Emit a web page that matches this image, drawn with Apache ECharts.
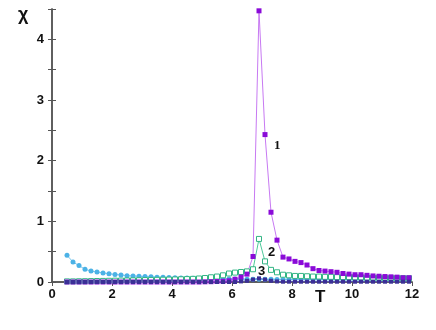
<!DOCTYPE html>
<html>
<head>
<meta charset="utf-8">
<script src="https://cdn.jsdelivr.net/npm/echarts@6/dist/echarts.min.js"></script>
<style>
    html, body { margin: 0; padding: 0; background: #fff; }
    #chart { width: 436px; height: 330px; }
</style>
</head>
<body>
<div id="chart"></div>
<script>
// temperatures (same grid for every curve)
const temps = [0.5, 0.7, 0.9, 1.1, 1.3, 1.5, 1.7, 1.9, 2.1, 2.3,
    2.5, 2.7, 2.9, 3.1, 3.3, 3.5, 3.7, 3.9, 4.1, 4.3,
    4.5, 4.7, 4.9, 5.1, 5.3, 5.5, 5.7, 5.9, 6.1, 6.3,
    6.5, 6.7, 6.9, 7.1, 7.3, 7.5, 7.7, 7.9, 8.1, 8.3,
    8.5, 8.7, 8.9, 9.1, 9.3, 9.5, 9.7, 9.9, 10.1, 10.3,
    10.5, 10.7, 10.9, 11.1, 11.3, 11.5, 11.7, 11.9];

// curve 1 - purple filled squares
const chi1 = [0, 0, 0, 0, 0, 0, 0, 0, 0, 0,
    0, 0, 0, 0, 0, 0, 0, 0, 0, 0,
    0, 0, 0, 0.003, 0.005, 0.008, 0.012, 0.02, 0.045, 0.08,
    0.13, 0.42, 4.47, 2.43, 1.15, 0.69, 0.41, 0.38, 0.34, 0.32,
    0.28, 0.22, 0.19, 0.18, 0.17, 0.16, 0.14, 0.13, 0.12, 0.12,
    0.11, 0.10, 0.095, 0.09, 0.085, 0.08, 0.07, 0.07];

// curve 2 - green open squares
const chi2 = [0.01, 0.01, 0.012, 0.013, 0.015, 0.016, 0.018, 0.02, 0.022, 0.024,
    0.026, 0.028, 0.03, 0.032, 0.034, 0.036, 0.038, 0.04, 0.042, 0.045,
    0.048, 0.052, 0.058, 0.066, 0.078, 0.09, 0.11, 0.14, 0.155, 0.165,
    0.175, 0.21, 0.71, 0.34, 0.2, 0.16, 0.12, 0.11, 0.1, 0.1,
    0.095, 0.09, 0.09, 0.085, 0.085, 0.08, 0.08, 0.08, 0.075, 0.075,
    0.07, 0.07, 0.07, 0.068, 0.066, 0.065, 0.064, 0.062];

// curve 3 - dark blue squares near zero
const chi3 = [0, 0, 0, 0, 0, 0, 0, 0, 0, 0,
    0, 0, 0, 0, 0, 0, 0, 0, 0, 0,
    0, 0, 0, 0, 0, 0, 0, 0, 0, 0.01,
    0.02, 0.04, 0.06, 0.04, 0.02, 0.01, 0.005, 0.005, 0.005, 0.005,
    0.005, 0.005, 0.005, 0.005, 0.005, 0.005, 0.005, 0.005, 0.005, 0.005,
    0.005, 0.005, 0.005, 0.005, 0.005, 0.005, 0.005, 0.005];

// light blue circles
const chi4 = [0.44, 0.33, 0.27, 0.21, 0.18, 0.165, 0.15, 0.135, 0.125, 0.115,
    0.105, 0.1, 0.095, 0.09, 0.085, 0.08, 0.077, 0.073, 0.07, 0.067,
    0.064, 0.061, 0.058, 0.056, 0.054, 0.052, 0.05, 0.049, 0.048, 0.047,
    0.046, 0.045, 0.045, 0.044, 0.044, 0.043, 0.043, 0.042, 0.042, 0.041,
    0.041, 0.04, 0.04, 0.04, 0.039, 0.039, 0.038, 0.038, 0.038, 0.037,
    0.037, 0.036, 0.036, 0.036, 0.035, 0.035, 0.035, 0.034];

const xTicks = [0, 2, 4, 6, 8, 10, 12];

const pairs = (ys) => temps.map((t, i) => [t, ys[i]]);

const chart = echarts.init(document.getElementById('chart'));

const axisLine = { show: true, lineStyle: { color: '#555', width: 1.5 } };
const tickIn = { show: true, inside: true, length: 4, lineStyle: { color: '#555', width: 1 } };

const option = {
    backgroundColor: '#fff',
    animation: false,
    grid: { left: 52, right: 24, top: 9, bottom: 48 },
    xAxis: [
        {
            type: 'value', min: xTicks[0], max: xTicks[xTicks.length - 1], interval: 2,
            axisLine: axisLine,
            axisTick: { show: false },
            splitLine: { show: false },
            axisLabel: { color: '#111', fontSize: 13, fontWeight: 'bold', fontFamily: 'Liberation Sans', margin: 6 }
        },
        {
            type: 'value', position: 'top', min: 0, max: 12, interval: 2,
            axisLine: axisLine, axisTick: tickIn,
            axisLabel: { show: false }, splitLine: { show: false }
        }
    ],
    yAxis: [
        {
            type: 'value', min: 0, max: 4.5, interval: 0.5,
            axisLine: axisLine, axisTick: tickIn,
            splitLine: { show: false },
            axisLabel: {
                color: '#111', fontSize: 13, fontWeight: 'bold', fontFamily: 'Liberation Sans', margin: 8,
                formatter: (v) => (Number.isInteger(v) ? String(v) : '')
            }
        },
        {
            type: 'value', position: 'right', min: 0, max: 4.5, interval: 0.5,
            axisLine: axisLine, axisTick: tickIn,
            axisLabel: { show: false }, splitLine: { show: false }
        }
    ],
    series: [
        {
            name: '4', type: 'line', data: pairs(chi4),
            symbol: 'circle', symbolSize: 5,
            lineStyle: { color: '#7cc8ee', width: 1 },
            itemStyle: { color: '#4cb2e6' }
        },
        {
            name: '2', type: 'line', data: pairs(chi2),
            symbol: 'rect', symbolSize: 5,
            lineStyle: { color: '#4ec99a', width: 1 },
            itemStyle: { color: '#ffffff', borderColor: '#33b585', borderWidth: 1 }
        },
        {
            name: '1', type: 'line', data: pairs(chi1),
            symbol: 'rect', symbolSize: 5,
            lineStyle: { color: '#c779f2', width: 1 },
            itemStyle: { color: '#8a0ad8' }
        },
        {
            name: '3', type: 'line', data: pairs(chi3),
            symbol: 'rect', symbolSize: 4,
            lineStyle: { color: '#5a4ab8', width: 1 },
            itemStyle: { color: '#3b2f96' }
        }
    ],
    graphic: [
        { type: 'text', left: 18, top: 6, style: { text: 'χ', font: 'bold 18px "Liberation Sans"', fill: '#111' } },
        { type: 'text', left: 315, top: 289, style: { text: 'T', font: 'bold 17px "Liberation Sans"', fill: '#111' } },
        { type: 'text', left: 274, top: 139, style: { text: '1', font: 'bold 13px "Liberation Serif"', fill: '#111' } },
        { type: 'text', left: 268, top: 246, style: { text: '2', font: 'bold 13px "Liberation Sans"', fill: '#111' } },
        { type: 'text', left: 258, top: 265, style: { text: '3', font: 'bold 13px "Liberation Sans"', fill: '#111' } }
    ]
};

chart.setOption(option);
</script>
</body>
</html>
